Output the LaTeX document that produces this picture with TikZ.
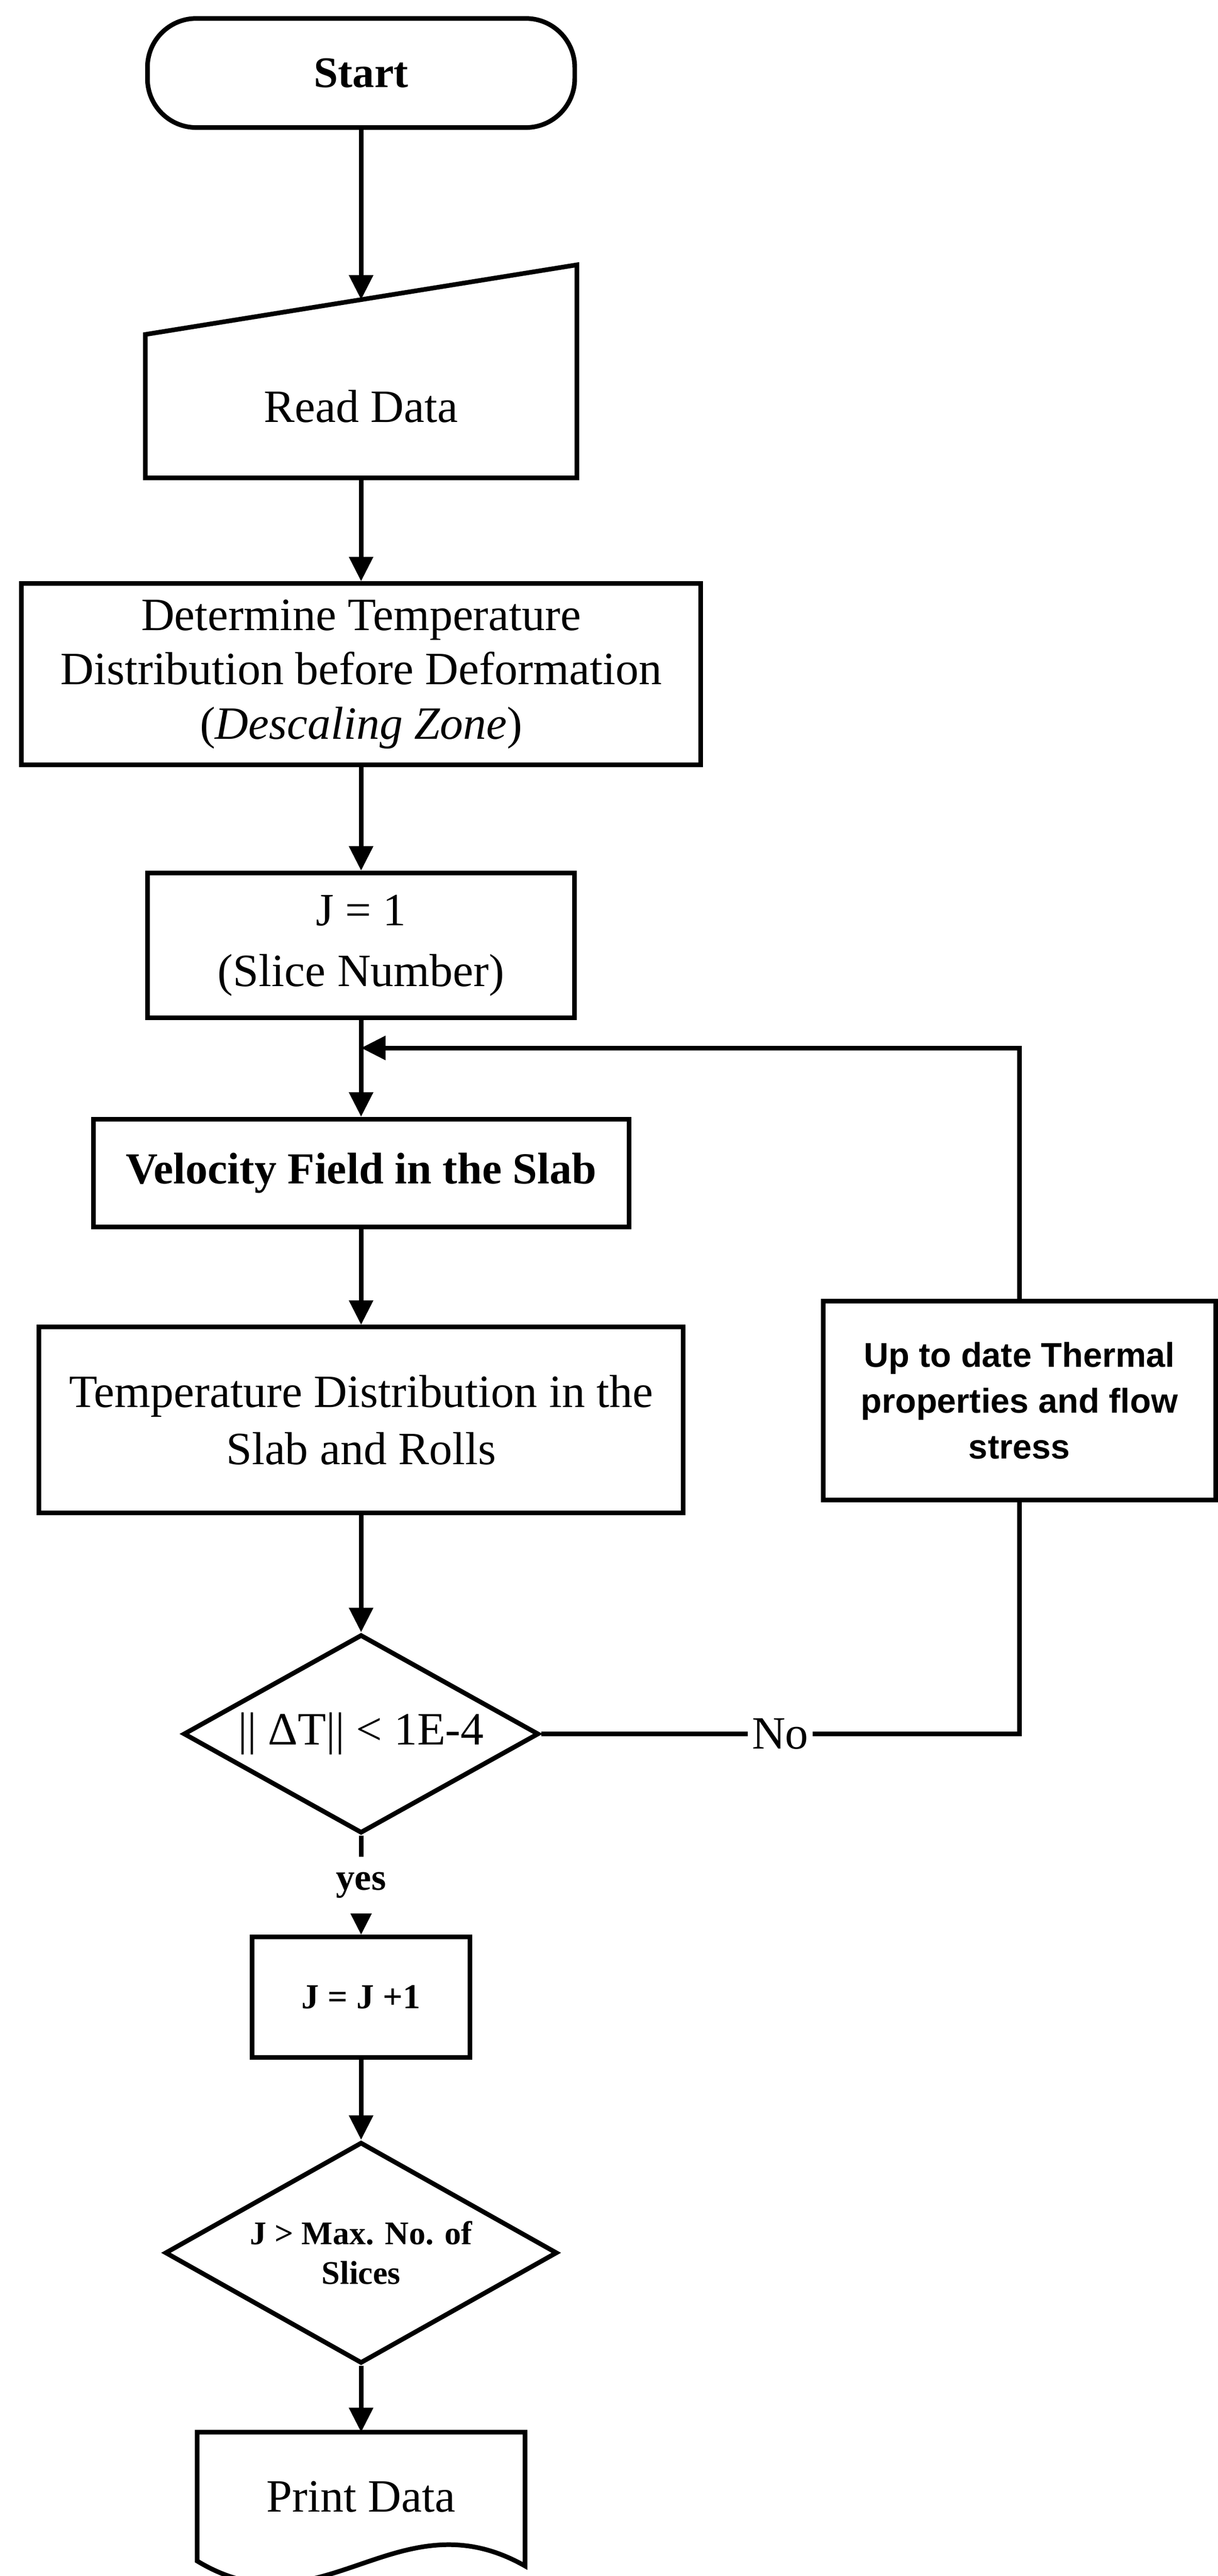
\documentclass[tikz,border=0pt]{standalone}
\usepackage{fontspec}
\setmainfont{Liberation Serif}
\newfontfamily\arialfont{Liberation Sans}
\usetikzlibrary{arrows.meta,shapes.geometric}
\newcommand{\fsz}[2]{\fontsize{#1}{#2}\selectfont}

\begin{document}
\begin{tikzpicture}[line width=3.5pt,>={Triangle[length=6.5mm,width=6.2mm]},
        box/.style={draw,rectangle,align=center,inner sep=0pt,font=\fsz{35pt}{43pt}},
        decision/.style={draw,diamond,aspect=1.78,align=center,inner sep=0pt},
        plain/.style={rectangle,align=center,inner sep=0pt,font=\fsz{35pt}{43pt}}]
            \useasboundingbox (0,0) rectangle (32.37,-68.46);
            \node (start) at (9.6,-1.94) [draw,rounded corners=1.3cm,minimum width=11.36cm,minimum height=2.9cm,font=\fsz{33pt}{40pt}\bfseries] {Start};
            \node (read) at (9.6,-10.795) [plain,minimum width=11.35cm,minimum height=3.69cm] {Read Data};
            \draw (read.south west) -- (read.north west) -- coordinate (readin) ([yshift=1.85cm]read.north east) -- (read.south east) -- cycle;
            \node (determ) at (9.6,-17.92) [box,minimum width=18.06cm,minimum height=4.82cm,font=\fsz{35pt}{41pt}] {Determine Temperature\\Distribution before Deformation\\(\textit{Descaling Zone})};
            \node (j1) at (9.6,-25.125) [box,minimum width=11.35cm,minimum height=3.85cm,font=\fsz{35pt}{46pt}] {J = 1\\(Slice Number)};
            \coordinate (merge) at (9.6,-27.85);
            \node (vel) at (9.6,-31.175) [box,minimum width=14.24cm,minimum height=2.87cm,font=\fsz{33.5pt}{40pt}\bfseries] {Velocity Field in the Slab};
            \node (temp) at (9.6,-37.74) [box,minimum width=17.13cm,minimum height=4.94cm] {Temperature Distribution in the\\Slab and Rolls};
            \node (upd) at (27.1,-37.22) [box,minimum width=10.44cm,minimum height=5.28cm,font=\arialfont\fsz{26pt}{34.7pt}\bfseries] {Up to date Thermal\\properties and flow\\stress};
            \node (dT) at (9.6,-46.08) [decision,minimum width=9.45cm,minimum height=5.28cm,font=\fsz{35pt}{43pt}] {|| ΔT|| < 1E-4};
            \node (jinc) at (9.6,-53.08) [box,minimum width=5.79cm,minimum height=3.2cm,font=\fsz{26.5pt}{32pt}\bfseries] {J = J +1};
            \node (jmax) at (9.6,-59.87) [decision,minimum width=10.43cm,minimum height=5.88cm,font=\fsz{25pt}{30pt}\bfseries] {J > Max. No. of\\Slices};
            \node (print) at (9.6,-66.35) [plain,minimum width=8.59cm,minimum height=3.3cm] {Print Data};
            \draw (print.south west) -- (print.north west) -- (print.north east) -- ([yshift=-1.3mm]print.south east) .. controls +(-3.4,1.93) and +(3.3,-2.0) .. (print.south west) -- cycle;
            \draw[->] (start) -- (readin);
            \draw[->] (read) -- (determ);
            \draw[->] (determ) -- (j1);
            \draw[->] (j1) -- (vel);
            \draw[->] (upd) |- (merge);
            \draw[->] (vel) -- (temp);
            \draw[->] (temp) -- (dT);
            \draw (dT) -- node[fill=white,inner sep=3pt,font=\fsz{35pt}{43pt}]{No} (dT -| upd) -- (upd);
            \draw[->] (dT) -- node[fill=white,minimum height=1.5cm,inner sep=2pt,font=\fsz{28.5pt}{34pt}\bfseries]{yes} (jinc);
            \draw[->] (jinc) -- (jmax);
            \draw[->] (jmax) -- (print);
        \end{tikzpicture}
\end{document}
